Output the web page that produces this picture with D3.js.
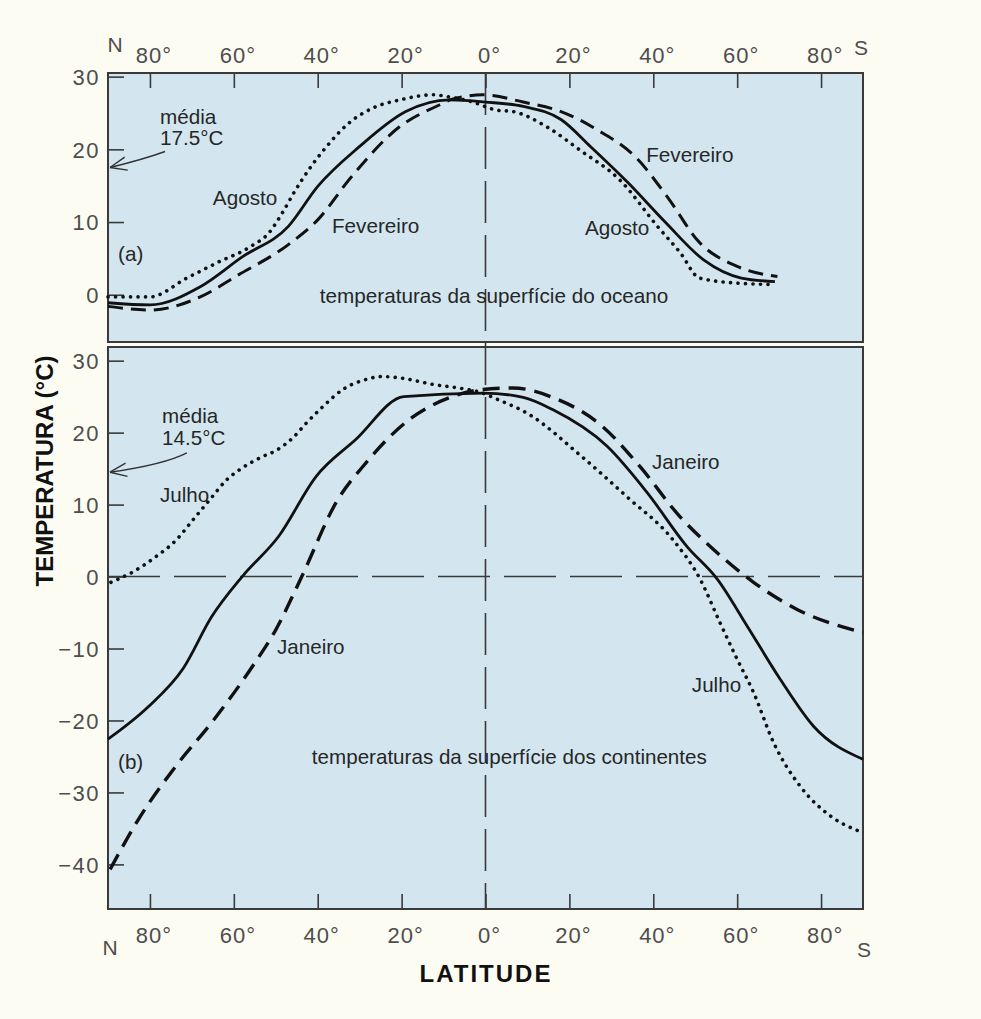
<!DOCTYPE html>
<html><head><meta charset="utf-8">
<script src="https://cdn.jsdelivr.net/npm/d3@7"></script>
<style>
html,body{margin:0;padding:0;background:#fdfcf3;}
svg{display:block;}
</style></head>
<body>
<svg id="c" width="981" height="1019"></svg>
<script>
// ---------- axis ticks ----------
const latTicks = [80, 60, 40, 20, 0, -20, -40, -60, -80];
const latTickLabels = ["80°", "60°", "40°", "20°", "0°", "20°", "40°", "60°", "80°"];
const oceanTempTicks = [0, 10, 20, 30];
const landTempTicks = [30, 20, 10, 0, -10, -20, -30, -40];

// ---------- (a) ocean surface temperatures (lat: + = N, - = S) ----------
const oceanMeanLat = [90, 80, 68, 58, 47, 40, 30, 19, 8.6, 0, -9, -18, -25, -34, -43, -52, -61, -69];
const oceanMean    = [-1.1, -1.4, 1.1, 5.2, 9.4, 14.9, 20.4, 25.2, 26.8, 26.5, 25.9, 24.1, 20.4, 15.4, 9.9, 4.8, 2.3, 1.8];

const oceanAugLat = [90, 80, 71.2, 64, 56.1, 51.5, 48.5, 45.5, 42, 38, 33, 26.8, 20.4, 12.5, 8.5, 3, -2.6, -6.5, -14.6, -22.5, -32, -41, -46.4, -51, -60, -69];
const oceanAug    = [-0.3, -0.3, 2.3, 4.4, 6.6, 8.6, 11.2, 14.2, 17.3, 20.3, 23.4, 25.7, 26.8, 27.5, 27.2, 26.5, 25.4, 25.2, 23.1, 19.9, 15.8, 9.4, 5.8, 2.3, 1.6, 1.4];

const oceanFebLat = [90, 80, 68, 59, 47, 40, 32, 20.5, 11, 7.9, 0.5, -9, -18, -26.6, -36, -43.3, -51, -60, -69.6];
const oceanFeb    = [-1.6, -2.1, -0.3, 2.7, 6.9, 10.3, 16.2, 23.1, 26.1, 26.9, 27.5, 26.5, 25.2, 22.7, 18.8, 13.5, 7.2, 3.9, 2.5];

// ---------- (b) continental surface temperatures ----------
const landMeanLat = [90, 80.4, 72, 65.3, 58, 49.3, 40.4, 31, 19.5, 0.5, -9, -16, -29, -38.5, -48, -55.3, -62.4, -70.3, -78.2, -90];
const landMean    = [-22.6, -18.1, -12.7, -5.6, 0, 5.6, 13.9, 19.0, 25, 25.5, 24.9, 23.2, 18.1, 11.7, 4.2, -0.4, -6.9, -14.3, -20.8, -25.4];

const landJulLat = [89.3, 84.2, 78.5, 73.7, 69.7, 65.7, 61.6, 58.5, 53.8, 49.7, 45.9, 42.6, 38.8, 34, 28.4, 24.6, 20.4, 12.5, 4.4, 0.7, -1.7, -10.5, -22.5, -33.7, -44.7, -51.2, -55.9, -60, -63.9, -68.7, -75.1, -82.3, -90];
const landJul    = [-0.8, 0.6, 2.8, 5.1, 7.9, 10.7, 13.5, 14.9, 16.5, 17.6, 19.3, 21.4, 23.6, 26, 27.4, 27.8, 27.6, 26.7, 26, 25.5, 24.9, 22.5, 16.9, 11.1, 5.1, -0.4, -6.4, -11.5, -16.1, -23.1, -29.2, -33.3, -35.6];

const landJanLat = [89.5, 82.8, 73.9, 65.3, 55.7, 50, 43.8, 35.6, 28.5, 18.2, 7.9, 0.7, -6.5, -16, -28, -36.8, -46.4, -54.3, -63.9, -74.4, -90];
const landJan    = [-40.7, -33.8, -26.4, -20.3, -12.6, -7.4, 0, 10.3, 15.8, 21.8, 25, 26, 26.2, 24.9, 20.8, 15.3, 8.3, 3.8, -0.8, -4.6, -7.8];

// ---------- annotations ----------
const oceanLabels = ["média", "17.5°C", "Agosto", "Fevereiro", "(a)", "temperaturas da superfície do oceano", "Fevereiro", "Agosto"];
const oceanLabelLat = [77.6, 77.6, 65, 36.6, 87.6, 39.5, -38.3, -23.7];
const oceanLabelTemp = [23.5, 20.6, 12.4, 8.5, 4.6, -1.1, 18.3, 8.25];
const oceanMeanAnnual = 17.5;

const landLabels = ["média", "14.5°C", "Julho", "Janeiro", "(b)", "temperaturas da superfície dos continentes", "Janeiro", "Julho"];
const landLabelLat = [77.1, 77.1, 77.6, 49.7, 87.6, 41.4, -39.7, -49.2];
const landLabelTemp = [21.4, 18.3, 10.3, -10.8, -26.8, -26.1, 14.9, -16.1];
const landMeanAnnual = 14.5;

// ---------- layout ----------
const svg = d3.select("#c");
const X0 = 108, X1 = 863;
const x = d3.scaleLinear().domain([90, -90]).range([X0, X1]);
const topP = {y0: 73, y1: 342};
const botP = {y0: 347, y1: 909};
const yTop = d3.scaleLinear().domain([-6.5, 30.5]).range([topP.y1, topP.y0]);
const yBot = d3.scaleLinear().domain([-46.2, 31.9]).range([botP.y1, botP.y0]);

const fill = "#d3e6f0", frame = "#3a3a3a", tickCol = "#4d4d4d", ink = "#262626";
const fontReg = "'Liberation Sans', Arial, sans-serif";

function panel(p) {
  svg.append("rect").attr("x", X0).attr("y", p.y0).attr("width", X1 - X0).attr("height", p.y1 - p.y0)
    .attr("fill", fill).attr("stroke", frame).attr("stroke-width", 2);
}
panel(topP); panel(botP);

// vertical equator dashed line
svg.append("line").attr("x1", x(0)).attr("x2", x(0)).attr("y1", topP.y0).attr("y2", botP.y1)
  .attr("stroke", "#3a3a3a").attr("stroke-width", 1.6).attr("stroke-dasharray", "42,12");
// horizontal zero line (continents)
svg.append("line").attr("x1", X0).attr("x2", X1).attr("y1", yBot(0)).attr("y2", yBot(0))
  .attr("stroke", "#3a3a3a").attr("stroke-width", 1.5).attr("stroke-dasharray", "52,14");

// y axes (ticks inside)
function yAxis(scale, ticks) {
  const g = svg.append("g").attr("transform", `translate(${X0},0)`)
    .call(d3.axisRight(scale).tickValues(ticks).tickSize(16).tickFormat(""));
  g.select(".domain").remove();
  g.selectAll("line").attr("stroke", frame).attr("stroke-width", 1.6);
  const g2 = svg.append("g").attr("transform", `translate(${X0 - 8},0)`)
    .call(d3.axisLeft(scale).tickValues(ticks).tickSize(0).tickFormat(d3.format("d")));
  g2.select(".domain").remove();
  g2.selectAll("text").attr("font-family", fontReg).attr("font-size", 22).attr("fill", tickCol)
    .attr("letter-spacing", 1.5).attr("dy", "0.36em").attr("x", 0);
}
yAxis(yTop, oceanTempTicks);
yAxis(yBot, landTempTicks);

// x axes: top panel ticks pointing down, bottom panel ticks pointing up
const gxT = svg.append("g").attr("transform", `translate(0,${topP.y0})`)
  .call(d3.axisBottom(x).tickValues(latTicks).tickSize(15).tickFormat(""));
gxT.select(".domain").remove();
gxT.selectAll("line").attr("stroke", frame).attr("stroke-width", 1.6);
const gxB = svg.append("g").attr("transform", `translate(0,${botP.y1})`)
  .call(d3.axisTop(x).tickValues(latTicks).tickSize(15).tickFormat(""));
gxB.select(".domain").remove();
gxB.selectAll("line").attr("stroke", frame).attr("stroke-width", 1.6);

// x tick labels top & bottom
[63, 943].forEach(by => {
  svg.append("g").selectAll("text").data(latTicks).join("text")
    .attr("x", d => x(d) + 4).attr("y", by).attr("text-anchor", "middle")
    .attr("font-family", fontReg).attr("font-size", 22).attr("fill", tickCol).attr("letter-spacing", 1)
    .text((d, i) => latTickLabels[i]);
});
const ns = [["N", x(90) + 7, 52], ["S", x(-90) - 2, 55], ["N", x(90) + 2, 955], ["S", x(-90) + 1, 957]];
svg.append("g").selectAll("text").data(ns).join("text")
  .attr("x", d => d[1]).attr("y", d => d[2]).attr("text-anchor", "middle")
  .attr("font-family", fontReg).attr("font-size", 21).attr("fill", tickCol).text(d => d[0]);

// axis titles
svg.append("text").attr("x", 486).attr("y", 982).attr("text-anchor", "middle")
  .attr("font-family", "'Liberation Sans', Arial, sans-serif").attr("font-weight", "bold")
  .attr("font-size", 24).attr("letter-spacing", 2).attr("fill", "#111").text("LATITUDE");
svg.append("text").attr("transform", "translate(53,471) rotate(-90)").attr("text-anchor", "middle")
  .attr("font-family", "'Liberation Sans', Arial, sans-serif").attr("font-weight", "bold")
  .attr("font-size", 24).attr("fill", "#111").text("TEMPERATURA (°C)");

// series
function series(lat, vals, scale, style) {
  const line = d3.line().x((d, i) => x(lat[i])).y(d => scale(d)).curve(d3.curveMonotoneX);
  const p = svg.append("path").attr("d", line(vals)).attr("fill", "none").attr("stroke", "#111");
  if (style === "solid") p.attr("stroke-width", 2.8).attr("stroke-linejoin", "round");
  if (style === "dashTop") p.attr("stroke-width", 3).attr("stroke-dasharray", "15,8");
  if (style === "dashBot") p.attr("stroke-width", 3.4).attr("stroke-dasharray", "17,9");
  if (style === "dot") p.attr("stroke-width", 3.6).attr("stroke-linecap", "round").attr("stroke-dasharray", "0.1,7.4");
}
series(oceanAugLat, oceanAug, yTop, "dot");
series(oceanFebLat, oceanFeb, yTop, "dashTop");
series(oceanMeanLat, oceanMean, yTop, "solid");
series(landJulLat, landJul, yBot, "dot");
series(landJanLat, landJan, yBot, "dashBot");
series(landMeanLat, landMean, yBot, "solid");

// labels
function labels(txt, lat, temp, scale, size) {
  svg.append("g").selectAll("text").data(txt).join("text")
    .attr("x", (d, i) => x(lat[i])).attr("y", (d, i) => scale(temp[i]))
    .attr("font-family", fontReg).attr("font-size", size).attr("fill", ink).text(d => d);
}
labels(oceanLabels, oceanLabelLat, oceanLabelTemp, yTop, 20.7);
labels(landLabels, landLabelLat, landLabelTemp, yBot, 20.6);

// arrows pointing to annual mean on the y axis
function arrow(scale, val, startLat, startTemp) {
  const ex = X0 + 2, ey = scale(val);
  const sx = x(startLat), sy = scale(startTemp);
  const cx = sx - 22, cy = ey - 8;
  svg.append("path").attr("d", `M${sx},${sy} Q${cx},${cy} ${ex},${ey}`)
    .attr("fill", "none").attr("stroke", "#333").attr("stroke-width", 1.4);
  const ang = Math.atan2(ey - cy, ex - cx);
  const L = 18;
  [0.38, -0.38].forEach(a => {
    svg.append("line").attr("x1", ex).attr("y1", ey)
      .attr("x2", ex - L * Math.cos(ang + a)).attr("y2", ey - L * Math.sin(ang + a))
      .attr("stroke", "#333").attr("stroke-width", 1.4);
  });
}
arrow(yTop, oceanMeanAnnual, 76.4, 19.7);
arrow(yBot, landMeanAnnual, 71.2, 17.2);
</script>
</body></html>
